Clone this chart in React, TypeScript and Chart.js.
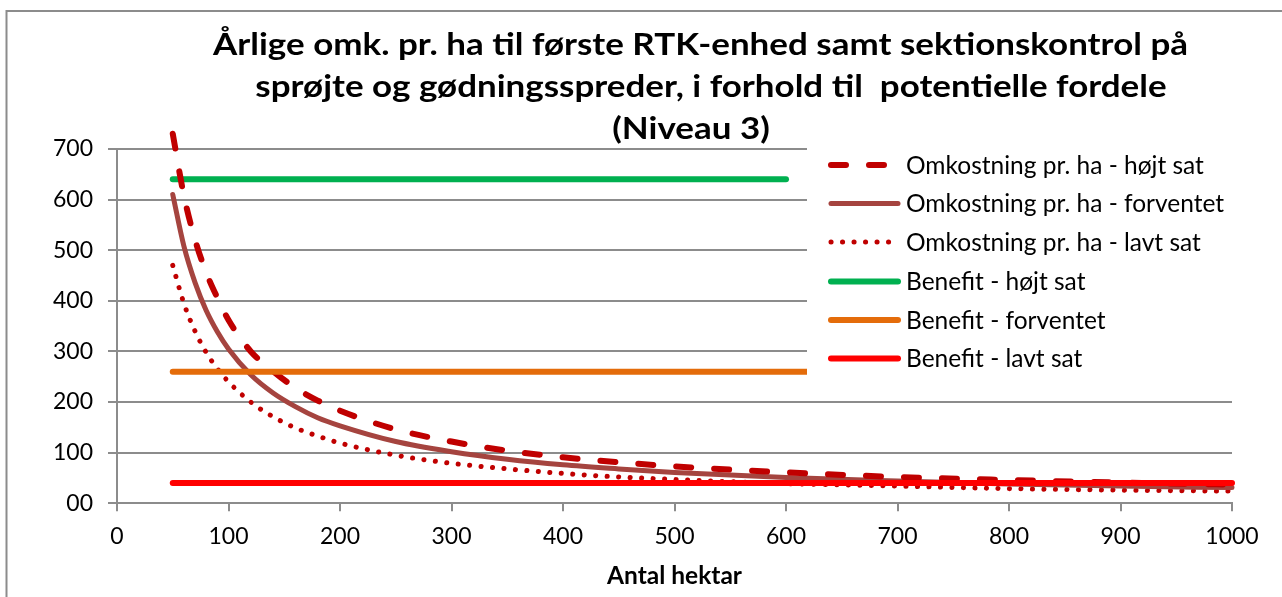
import React, { useEffect, useRef } from 'react';
import { Chart, registerables } from 'chart.js';

Chart.register(...registerables);

// ---- Data ----
const titleLines = [
  'Årlige omk. pr. ha til første RTK-enhed samt sektionskontrol på',
  'sprøjte og gødningsspreder, i forhold til  potentielle fordele',
  '(Niveau 3)',
];
const xAxisTitle = 'Antal hektar';

const hectares = [50, 60, 70, 80, 90, 100, 120, 140, 160, 180, 200, 250, 300, 350, 400, 450, 500, 600, 700, 800, 900, 1000];
const costHigh = [730, 608, 521, 456, 406, 362, 300, 261, 228, 203, 183, 146, 122, 104, 91, 81, 73, 61, 52, 46, 41, 37];
const costExpected = [610, 508, 436, 381, 339, 305, 254, 218, 191, 169, 153, 122, 102, 87, 76, 68, 61, 51, 44, 38, 34, 31];
const costLow = [470, 395, 340, 298, 266, 240, 200, 171, 149, 133, 119, 95, 79, 68, 59, 52, 47, 39, 34, 29, 26, 24];

const benefitHighX = [50, 600];
const benefitHigh = [640, 640];
const benefitExpectedX = [50, 1000];
const benefitExpected = [260, 260];
const benefitLowX = [50, 1000];
const benefitLow = [40, 40];

const seriesLabels = [
  'Omkostning pr. ha - højt sat',
  'Omkostning pr. ha - forventet',
  'Omkostning pr. ha - lavt sat',
  'Benefit - højt sat',
  'Benefit - forventet',
  'Benefit - lavt sat',
];

const yTicks = [0, 100, 200, 300, 400, 500, 600, 700];
const xTicks = [0, 100, 200, 300, 400, 500, 600, 700, 800, 900, 1000];

// ---- Styles ----
const FONT = 'Lato';
const GRID = '#8c8c8c';
const styles = [
  { color: '#C00000', width: 6, dash: [15, 23], cap: 'round' },
  { color: '#A5443F', width: 5, dash: [], cap: 'round' },
  { color: '#C00000', width: 5, dash: [0.1, 11.4], cap: 'round' },
  { color: '#00B050', width: 6, dash: [], cap: 'round' },
  { color: '#E46C0A', width: 6, dash: [], cap: 'round' },
  { color: '#FF0000', width: 6, dash: [], cap: 'round' },
];

const pts = (xs: number[], ys: number[]) => xs.map((x, i) => ({ x, y: ys[i] }));

const framePlugin = {
  id: 'frame',
  beforeDraw(chart: any) {
    const c = chart.ctx;
    c.save();
    c.fillStyle = '#ffffff';
    c.fillRect(0, 0, chart.width, chart.height);
    c.strokeStyle = GRID;
    c.lineWidth = 2;
    c.beginPath();
    c.moveTo(6.5, chart.height);
    c.lineTo(6.5, 11);
    c.lineTo(chart.width, 11);
    c.stroke();
    c.restore();
  },
};

const titlePlugin = {
  id: 'customTitle',
  afterDraw(chart: any) {
    const c = chart.ctx;
    c.save();
    c.fillStyle = '#000000';
    c.font = `bold 30px ${FONT}`;
    c.textAlign = 'center';
    c.textBaseline = 'alphabetic';
    const w = c.measureText(titleLines[0]).width;
    const sx = 975 / w;
    const centers = [700.5, 711, 691];
    const baselines = [55, 97, 139];
    titleLines.forEach((t, i) => {
      c.save();
      c.translate(centers[i], baselines[i]);
      c.scale(sx, 1);
      c.fillText(t, 0, 0);
      c.restore();
    });
    c.restore();
  },
};

const legendPlugin = {
  id: 'customLegend',
  afterDatasetsDraw(chart: any) {
    const c = chart.ctx;
    c.save();
    c.fillStyle = '#ffffff';
    c.fillRect(807, 140, 440, 240);
    const x0 = 831;
    const x1 = 898;
    const rowY = [165, 203.5, 242, 281.5, 320, 358.5];
    seriesLabels.forEach((label, i) => {
      const s = styles[i];
      c.strokeStyle = s.color;
      c.lineWidth = s.width;
      c.lineCap = s.cap;
      c.setLineDash(s.dash);
      c.beginPath();
      c.moveTo(x0, rowY[i]);
      c.lineTo(x1, rowY[i]);
      c.stroke();
      c.setLineDash([]);
      c.fillStyle = '#000000';
      c.font = `24.5px ${FONT}`;
      c.textAlign = 'left';
      c.textBaseline = 'middle';
      c.fillText(label, 906, rowY[i] + 1);
    });
    c.restore();
  },
};

export default function App() {
  const ref = useRef<HTMLCanvasElement>(null);

  useEffect(() => {
    document.body.style.margin = '0';
    const canvas = ref.current;
    if (!canvas) return;
    const series = [
      pts(hectares, costHigh),
      pts(hectares, costExpected),
      pts(hectares, costLow),
      pts(benefitHighX, benefitHigh),
      pts(benefitExpectedX, benefitExpected),
      pts(benefitLowX, benefitLow),
    ];
    const drawOrder = [3, 4, 5, 6, 2, 1];
    const chart = new Chart(canvas, {
      type: 'line',
      data: {
        datasets: series.map((d, i) => ({
          label: seriesLabels[i],
          data: d,
          borderColor: styles[i].color,
          backgroundColor: styles[i].color,
          borderWidth: styles[i].width,
          borderDash: styles[i].dash,
          borderCapStyle: styles[i].cap as any,
          borderJoinStyle: 'round' as any,
          pointRadius: 0,
          pointHoverRadius: 0,
          cubicInterpolationMode: 'monotone' as any,
          fill: false,
          clip: false as any,
          order: drawOrder[i],
        })),
      },
      options: {
        responsive: false,
        animation: false,
        events: [],
        layout: { padding: { top: 149, right: 50, bottom: 0, left: 0 } },
        plugins: {
          legend: { display: false },
          title: { display: false },
          tooltip: { enabled: false },
        },
        scales: {
          x: {
            type: 'linear',
            min: 0,
            max: 1000,
            afterBuildTicks: (scale: any) => {
              scale.ticks = xTicks.map((v) => ({ value: v }));
            },
            afterFit: (scale: any) => {
              scale.height = 93.7;
            },
            ticks: {
              color: '#000000',
              font: { family: FONT, size: 23 },
              padding: 11,
              maxRotation: 0,
              autoSkip: false,
              callback: (v: any) => String(v),
            },
            grid: {
              drawOnChartArea: false,
              drawTicks: true,
              tickLength: 8,
              color: GRID,
              lineWidth: 2,
            },
            border: { display: true, color: GRID, width: 2 },
            title: {
              display: true,
              text: xAxisTitle,
              color: '#000000',
              font: { family: FONT, size: 24.5, weight: 'bold' },
              padding: { top: 0, bottom: 6 },
            },
          },
          y: {
            type: 'linear',
            min: 0,
            max: 700,
            afterBuildTicks: (scale: any) => {
              scale.ticks = yTicks.map((v) => ({ value: v }));
            },
            afterFit: (scale: any) => {
              scale.width = 117;
            },
            ticks: {
              color: '#000000',
              font: { family: FONT, size: 23 },
              padding: 15,
              callback: (v: any) => (Number(v) === 0 ? '00' : String(v)),
            },
            grid: {
              drawTicks: true,
              tickLength: 9,
              color: GRID,
              lineWidth: 2,
            },
            border: { display: true, color: GRID, width: 2 },
          },
        },
      },
      plugins: [framePlugin, titlePlugin, legendPlugin],
    });
    return () => chart.destroy();
  }, []);

  return (
    <div style={{ width: 1282, height: 597, overflow: 'hidden', background: '#fff' }}>
      <canvas ref={ref} width={1282} height={597} style={{ display: 'block' }} />
    </div>
  );
}
